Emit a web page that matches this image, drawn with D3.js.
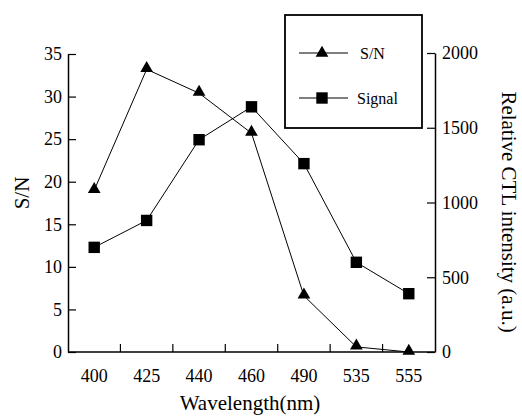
<!DOCTYPE html>
<html>
<head>
<meta charset="utf-8">
<script src="https://cdn.jsdelivr.net/npm/d3@7"></script>
<style>
  body { margin: 0; background: #fff; }
  svg text { font-family: 'Liberation Serif', serif; fill: #000; }
</style>
</head>
<body>
<div id="chart"></div>
<script>
var wavelengths = ["400", "425", "440", "460", "490", "535", "555"];
var snValues = [19, 33.2, 30.4, 25.7, 6.6, 0.6, 0];
var signalValues = [700, 880, 1420, 1640, 1260, 600, 390];
var snTicks = [0, 5, 10, 15, 20, 25, 30, 35];
var signalTicks = [0, 500, 1000, 1500, 2000];

var width = 522, height = 418,
    margin = {top: 54, right: 87, bottom: 66, left: 68};
var serif = "'Liberation Serif', serif";

var svg = d3.select("#chart").append("svg").attr("width", width).attr("height", height);

var x = d3.scaleBand().domain(wavelengths).range([margin.left, width - margin.right]);
var yL = d3.scaleLinear().domain([0, 35]).range([height - margin.bottom, margin.top]);
var yR = d3.scaleLinear().domain([0, 2000]).range([height - margin.bottom, margin.top - 1]);

// axes, ticks point inward
var bottom = svg.append("g").attr("transform", "translate(0," + (height - margin.bottom) + ")");
bottom.append("line").attr("x1", margin.left).attr("x2", width - margin.right)
    .attr("stroke", "#000").attr("stroke-width", 1.5);
bottom.selectAll(".tk").data(wavelengths.slice(1)).enter().append("line")
    .attr("x1", d => x(d)).attr("x2", d => x(d)).attr("y1", 0).attr("y2", -8)
    .attr("stroke", "#000").attr("stroke-width", 1.2);
bottom.selectAll(".lb").data(wavelengths).enter().append("text")
    .attr("x", d => x(d) + x.bandwidth() / 2).attr("y", 30)
    .attr("text-anchor", "middle").style("font-family", serif).style("font-size", "18px").text(d => d);

var left = svg.append("g").attr("transform", "translate(" + margin.left + ",0)")
    .call(d3.axisLeft(yL).tickValues(snTicks).tickSizeInner(-8).tickSizeOuter(0).tickPadding(6));
var right = svg.append("g").attr("transform", "translate(" + (width - margin.right) + ",0)")
    .call(d3.axisRight(yR).tickValues(signalTicks).tickFormat(d3.format("d"))
        .tickSizeInner(-8).tickSizeOuter(0).tickPadding(7));
[left, right].forEach(function(g) {
    g.attr("font-family", null).attr("font-size", null);
    g.select(".domain").attr("stroke-width", 1.5);
    g.selectAll(".tick line").attr("stroke-width", 1.2);
    g.selectAll(".tick text").style("font-family", serif).style("font-size", "18px").attr("fill", "#000");
});

// axis titles
svg.append("text").attr("transform", "translate(29,193) rotate(-90)")
    .attr("text-anchor", "middle").style("font-family", serif).style("font-size", "21px").text("S/N");
svg.append("text").attr("transform", "translate(502,212) rotate(90)")
    .attr("text-anchor", "middle").style("font-family", serif).style("font-size", "21px")
    .text("Relative CTL intensity (a.u.)");
svg.append("text").attr("x", 250).attr("y", 410)
    .attr("text-anchor", "middle").style("font-family", serif).style("font-size", "21px").text("Wavelength(nm)");

var cx = d => x(d) + x.bandwidth() / 2;
var tri = d3.symbol().type(d3.symbolTriangle).size(70);
var sq = d3.symbol().type(d3.symbolSquare).size(130);

var snData = wavelengths.map((w, i) => ({w: w, v: snValues[i]}));
var sigData = wavelengths.map((w, i) => ({w: w, v: signalValues[i]}));

svg.append("path").datum(sigData)
    .attr("d", d3.line().x(d => cx(d.w)).y(d => yR(d.v)))
    .attr("fill", "none").attr("stroke", "#000").attr("stroke-width", 1);
svg.append("path").datum(snData)
    .attr("d", d3.line().x(d => cx(d.w)).y(d => yL(d.v)))
    .attr("fill", "none").attr("stroke", "#000").attr("stroke-width", 1);

svg.selectAll(".sq").data(sigData).enter().append("path")
    .attr("transform", d => "translate(" + cx(d.w) + "," + yR(d.v) + ")")
    .attr("d", sq).attr("fill", "#000");
svg.selectAll(".tri").data(snData).enter().append("path")
    .attr("transform", d => "translate(" + cx(d.w) + "," + (yL(d.v) - 1) + ")")
    .attr("d", tri).attr("fill", "#000");

// legend
var legend = svg.append("g");
legend.append("rect").attr("x", 285).attr("y", 15).attr("width", 137).attr("height", 113)
    .attr("fill", "#fff").attr("stroke", "#000").attr("stroke-width", 1.8);
var items = [{name: "S/N", sym: tri, y: 53, tx: 360}, {name: "Signal", sym: sq, y: 98, tx: 357}];
items.forEach(function(it) {
    legend.append("line").attr("x1", 299).attr("x2", 348).attr("y1", it.y).attr("y2", it.y)
        .attr("stroke", "#000").attr("stroke-width", 1.2);
    legend.append("path").attr("transform", "translate(322," + it.y + ")").attr("d", it.sym).attr("fill", "#000");
    legend.append("text").attr("x", it.tx).attr("y", it.y + 6)
        .style("font-family", serif).style("font-size", "16px").text(it.name);
});
</script>
</body>
</html>
